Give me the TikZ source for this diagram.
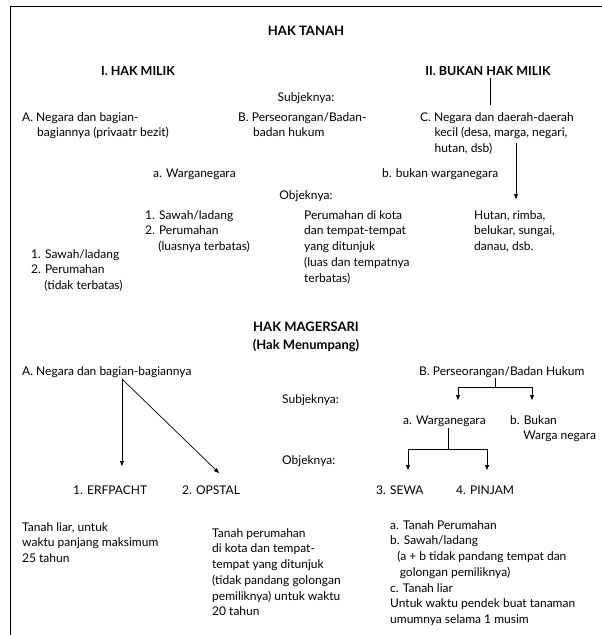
\documentclass[tikz,border=0pt]{standalone}
\usepackage{fontspec}
\setmainfont{Lato}
\usetikzlibrary{arrows.meta,positioning,calc}
\tikzstyle{arrow} = [line width=0.7pt,-{Triangle[length=5pt,width=4pt]}]
\tikzstyle{link} = [line width=0.7pt]
\tikzstyle{frame} = [line width=1pt]
\tikzstyle{txt} = [inner sep=0pt, anchor=base west, align=left, font=\fontsize{12}{15.75}\selectfont]
\tikzstyle{head} = [inner sep=0pt, anchor=base, align=center, font=\bfseries\fontsize{12.5}{18}\selectfont]
\tikzstyle{title} = [head, font=\bfseries\fontsize{13}{18}\selectfont]

\begin{document}
\begin{tikzpicture}[x=1pt,y=-1pt]
	\useasboundingbox (0,0) rectangle (602,635);
	\draw[frame] (10,635) |- (602,6);
	% hak tanah (base of a multi-line node = its last line)
	\node[title] (t_1) at (306,35) {HAK TANAH};
	\node[head] (hm_1) at (138,75) {I. HAK MILIK};
	\node[head] (hm_2) at (488,75) {II. BUKAN HAK MILIK};
	\node[txt,anchor=base] (subj_1) at (306,101) {Subjeknya:};
	\node[txt] (s_a) at (22,136.75) {A. Negara dan bagian-\\\hspace*{1.25em}bagiannya (privaatr bezit)};
	\node[txt] (s_b) at (238,136.75) {B. Perseorangan/Badan-\\\hspace*{1.25em}badan hukum};
	\node[txt] (s_c) at (420,152.5) {C. Negara dan daerah-daerah\\\hspace*{1.2em}kecil (desa, marga, negari,\\\hspace*{1.2em}hutan, dsb)};
	\node[txt] (w_a) at (153,177) {a. Warganegara};
	\node[txt] (w_b) at (382,177) {b. bukan warganegara};
	\node[txt,anchor=base] (obj_1) at (306,199) {Objeknya:};
	\node[txt] (o_1) at (145,250.5) {1. Sawah/ladang\\2. Perumahan\\\hspace*{1.1em}(luasnya terbatas)};
	\node[txt] (o_2) at (304,282) {Perumahan di kota\\dan tempat-tempat\\yang ditunjuk\\(luas dan tempatnya\\terbatas)};
	\node[txt] (o_3) at (474,250.5) {Hutan, rimba,\\belukar, sungai,\\danau, dsb.};
	\node[txt] (o_4) at (31,289.5) {1. Sawah/ladang\\2. Perumahan\\\hspace*{1.1em}(tidak terbatas)};
	\coordinate (c_top) at (490,78);
	\coordinate (c_dn) at (516,143);
	\path[link] (c_top) edge (c_top |- 0,105);
	\path[arrow] (c_dn) edge (c_dn |- 0,199);
	% hak magersari
	\node[title] (t_2) at (306,349) {HAK MAGERSARI\\(Hak Menumpang)};
	\node[txt] (l_a) at (22,375) {A. Negara dan bagian-bagiannya};
	\node[txt] (l_b) at (419,375) {B. Perseorangan/Badan Hukum};
	\node[txt] (subj_2) at (282,403) {Subjeknya:};
	\node[txt] (l_wa) at (403,424) {a. Warganegara};
	\node[txt] (l_wb) at (510,439.75) {b. Bukan\\\hspace*{1.1em}Warga negara};
	\node[txt] (obj_2) at (282,464) {Objeknya:};
	\node[txt] (r_1) at (73,494) {1. ERFPACHT};
	\node[txt] (r_2) at (182,494) {2. OPSTAL};
	\node[txt] (r_3) at (376,494) {3. SEWA};
	\node[txt] (r_4) at (456,494) {4. PINJAM};
	\node[txt] (d_1) at (22,562.5) {Tanah liar, untuk\\waktu panjang maksimum\\25 tahun};
	\node[txt] (d_2) at (212,615.75) {Tanah perumahan\\di kota dan tempat-\\tempat yang ditunjuk\\(tidak pandang golongan\\pemiliknya) untuk waktu\\20 tahun};
	\node[txt] (d_3) at (390,623.5) {a. Tanah Perumahan\\b. Sawah/ladang\\\hspace*{0.6em}(a + b tidak pandang tempat dan\\\hspace*{0.8em}golongan pemiliknya)\\c. Tanah liar\\Untuk waktu pendek buat tanaman\\umumnya selama 1 musim};
	\coordinate (a_top) at (122,379);
	\coordinate (b_top) at (495,378);
	\coordinate (b_bar) at (495,387);
	\coordinate (w_top) at (448,428);
	\coordinate (w_bar) at (448,449);
	\path[arrow] (a_top) edge (a_top |- 0,466)
		(a_top) edge (219,473);
	\draw[link] (b_top) -- (b_bar);
	\draw[arrow] (b_bar) -| (458,400);
	\draw[arrow] (b_bar) -| (532,400);
	\draw[link] (w_top) -- (w_bar);
	\draw[arrow] (w_bar) -| (408,470);
	\draw[arrow] (w_bar) -| (487,470);
\end{tikzpicture}
\end{document}
